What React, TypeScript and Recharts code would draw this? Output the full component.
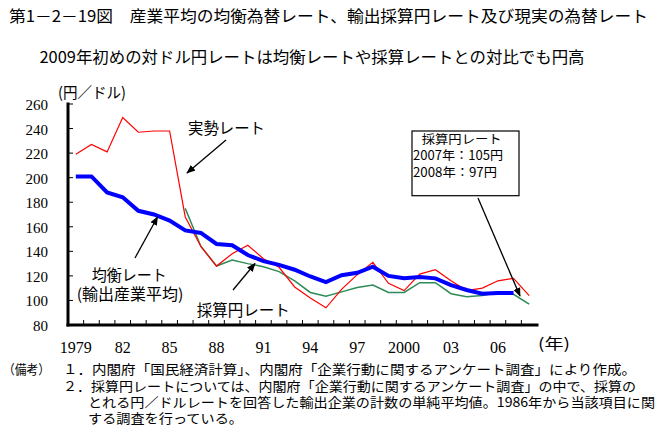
import React from 'react';
import { LineChart, Line, XAxis, YAxis } from 'recharts';

// ---- data ----
const years = [
  1979, 1980, 1981, 1982, 1983, 1984, 1985, 1986, 1987, 1988,
  1989, 1990, 1991, 1992, 1993, 1994, 1995, 1996, 1997, 1998,
  1999, 2000, 2001, 2002, 2003, 2004, 2005, 2006, 2007, 2008,
];
const xTickLabels = ['1979', '82', '85', '88', '91', '94', '97', '2000', '03', '06'];
const yTicks = [80, 100, 120, 140, 160, 180, 200, 220, 240, 260];

// 実勢レート
const actualRate = [
  219, 227, 221, 249, 237, 238, 238, 168, 144, 128,
  138, 145, 134, 127, 111, 102, 94, 109, 121, 131,
  114, 108, 121.5, 125, 116, 108, 110, 116, 118, 104,
];
// 均衡レート(輸出産業平均)
const equilibriumRate = [
  201, 201, 188, 184, 173, 170, 165, 157, 155, 146,
  145, 137, 132, 129, 125, 119.5, 115, 120.5, 122.5, 127.5,
  120, 118, 119, 118, 112.5, 108.5, 105.5, 106, 106, null,
];
// 採算円レート
const breakEvenRate = [
  null, null, null, null, null, null, null, 175, 144, 128,
  133, 130, 127.5, 123.5, 116, 106.5, 103.5, 107, 110.5, 112.5,
  106.5, 106.5, 114.5, 114.5, 105.5, 103, 104, 106.5, 105, 97,
];

const data = years.map((year, i) => ({
  year,
  actual: actualRate[i],
  equilibrium: equilibriumRate[i],
  breakEven: breakEvenRate[i],
}));

// ---- layout ----
const W = 658;
const H = 433;
const margin = { top: 104, right: 121, left: 8, bottom: 78 };
const yAxisWidth = 60;
const plotWidth = W - margin.left - yAxisWidth - margin.right;
const bandHalf = plotWidth / years.length / 2;

const JP = "'Noto Sans CJK JP', 'Noto Sans CJK SC', sans-serif";
const NUM = "'Liberation Serif', 'DejaVu Serif', serif";

const XTick = (props: any) => {
  const { x, y, index } = props;
  const showLabel = index % 3 === 0;
  const last = index === years.length - 1;
  return (
    <g>
      {!last && (
        <line x1={x + bandHalf} y1={y} x2={x + bandHalf} y2={y - 5} stroke="#000" strokeWidth={1} />
      )}
      {showLabel && (
        <text x={x} y={y + 28} textAnchor="middle" fontFamily={NUM} fontSize={16} fill="#000">
          {xTickLabels[index / 3]}
        </text>
      )}
    </g>
  );
};

const YTick = (props: any) => {
  const { x, y, payload } = props;
  return (
    <g>
      <line x1={x} y1={y} x2={x + 5} y2={y} stroke="#000" strokeWidth={1} />
      <text x={x - 20} y={y + 6} textAnchor="end" fontFamily={NUM} fontSize={15} fill="#000">
        {payload.value}
      </text>
    </g>
  );
};

const frameLine = { stroke: '#000', strokeWidth: 3, strokeLinecap: 'square' as const };

export default function App() {
  return (
    <div style={{ position: 'absolute', left: 0, top: 0, width: W, height: H, background: '#fff' }}>
      <LineChart width={W} height={H} data={data} margin={margin}>
        <XAxis
          dataKey="year"
          scale="band"
          interval={0}
          tickSize={0}
          tickMargin={0}
          tickLine={false}
          axisLine={frameLine}
          tick={<XTick />}
          height={30}
        />
        <XAxis
          xAxisId="top"
          dataKey="year"
          orientation="top"
          scale="band"
          height={0}
          tick={false}
          tickLine={false}
          axisLine={frameLine}
        />
        <YAxis
          domain={[80, 260]}
          ticks={yTicks}
          interval={0}
          tickSize={0}
          tickMargin={0}
          tickLine={false}
          axisLine={frameLine}
          tick={<YTick />}
          width={yAxisWidth}
          allowDataOverflow
        />
        <YAxis
          yAxisId="right"
          orientation="right"
          domain={[80, 260]}
          width={0}
          tick={false}
          tickLine={false}
          axisLine={frameLine}
        />
        <Line
          dataKey="breakEven"
          stroke="#2e8b57"
          strokeWidth={1.5}
          dot={false}
          isAnimationActive={false}
          type="linear"
        />
        <Line
          dataKey="actual"
          stroke="#ff0000"
          strokeWidth={1.2}
          dot={false}
          isAnimationActive={false}
          type="linear"
        />
        <Line
          dataKey="equilibrium"
          stroke="#0000ff"
          strokeWidth={4}
          dot={false}
          isAnimationActive={false}
          type="linear"
        />
      </LineChart>
      <svg
        width={W}
        height={H}
        style={{ position: 'absolute', left: 0, top: 0, pointerEvents: 'none' }}
      >
        <defs>
          <marker id="arr" viewBox="0 0 10 10" refX="9" refY="5" markerWidth="9" markerHeight="9" orient="auto-start-reverse" markerUnits="userSpaceOnUse">
            <path d="M0,1 L10,5 L0,9 Z" fill="#000" />
          </marker>
        </defs>
        <g fontFamily={JP} fill="#000">
          <text x={9} y={22} fontSize={16} textLength={639} lengthAdjust="spacingAndGlyphs">
            第1－2－19図　産業平均の均衡為替レート、輸出採算円レート及び現実の為替レート
          </text>
          <text x={39.5} y={63} fontSize={16} textLength={545} lengthAdjust="spacingAndGlyphs">
            2009年初めの対ドル円レートは均衡レートや採算レートとの対比でも円高
          </text>
          <text x={58} y={98} fontSize={15} textLength={68} lengthAdjust="spacingAndGlyphs">
            (円／ドル)
          </text>
          <text x={538} y={349} fontSize={15} textLength={32} lengthAdjust="spacingAndGlyphs">
            (年)
          </text>

          <text x={188} y={134} fontSize={15.5} textLength={77} lengthAdjust="spacingAndGlyphs">
            実勢レート
          </text>
          <text x={91.7} y={281} fontSize={15.5} textLength={75} lengthAdjust="spacingAndGlyphs">
            均衡レート
          </text>
          <text x={76.7} y={300} fontSize={15.5} textLength={106.6} lengthAdjust="spacingAndGlyphs">
            (輸出産業平均)
          </text>
          <text x={196.7} y={316} fontSize={15.5} textLength={93} lengthAdjust="spacingAndGlyphs">
            採算円レート
          </text>

          <rect x={412} y={131} width={107} height={64.7} fill="#fff" stroke="#000" strokeWidth={1.2} />
          <text x={421.7} y={143.5} fontSize={12.5} textLength={80} lengthAdjust="spacingAndGlyphs">
            採算円レート
          </text>
          <text x={413} y={160} fontSize={12.5} textLength={90} lengthAdjust="spacingAndGlyphs">
            2007年：105円
          </text>
          <text x={413} y={177} fontSize={12.5} textLength={84} lengthAdjust="spacingAndGlyphs">
            2008年：97円
          </text>

          <text x={3} y={374} fontSize={13} textLength={47} lengthAdjust="spacingAndGlyphs">
            （備考）
          </text>
          <text x={63} y={374} fontSize={13} textLength={573} lengthAdjust="spacingAndGlyphs">
            １．内閣府「国民経済計算」、内閣府「企業行動に関するアンケート調査」により作成。
          </text>
          <text x={63} y={390.5} fontSize={13} textLength={573} lengthAdjust="spacingAndGlyphs">
            ２．採算円レートについては、内閣府「企業行動に関するアンケート調査」の中で、採算の
          </text>
          <text x={88} y={407} fontSize={13} textLength={567} lengthAdjust="spacingAndGlyphs">
            とれる円／ドルレートを回答した輸出企業の計数の単純平均値。1986年から当該項目に関
          </text>
          <text x={88} y={423} fontSize={13} textLength={155} lengthAdjust="spacingAndGlyphs">
            する調査を行っている。
          </text>
        </g>
        <g stroke="#000" strokeWidth={1.3} fill="none">
          <line x1={226} y1={140} x2={187} y2={173} markerEnd="url(#arr)" />
          <line x1={135} y1={258} x2={157.5} y2={217} markerEnd="url(#arr)" />
          <line x1={233} y1={290} x2={255} y2={263.5} markerEnd="url(#arr)" />
          <line x1={478} y1={198} x2={520} y2={296} markerEnd="url(#arr)" />
        </g>
      </svg>
    </div>
  );
}
